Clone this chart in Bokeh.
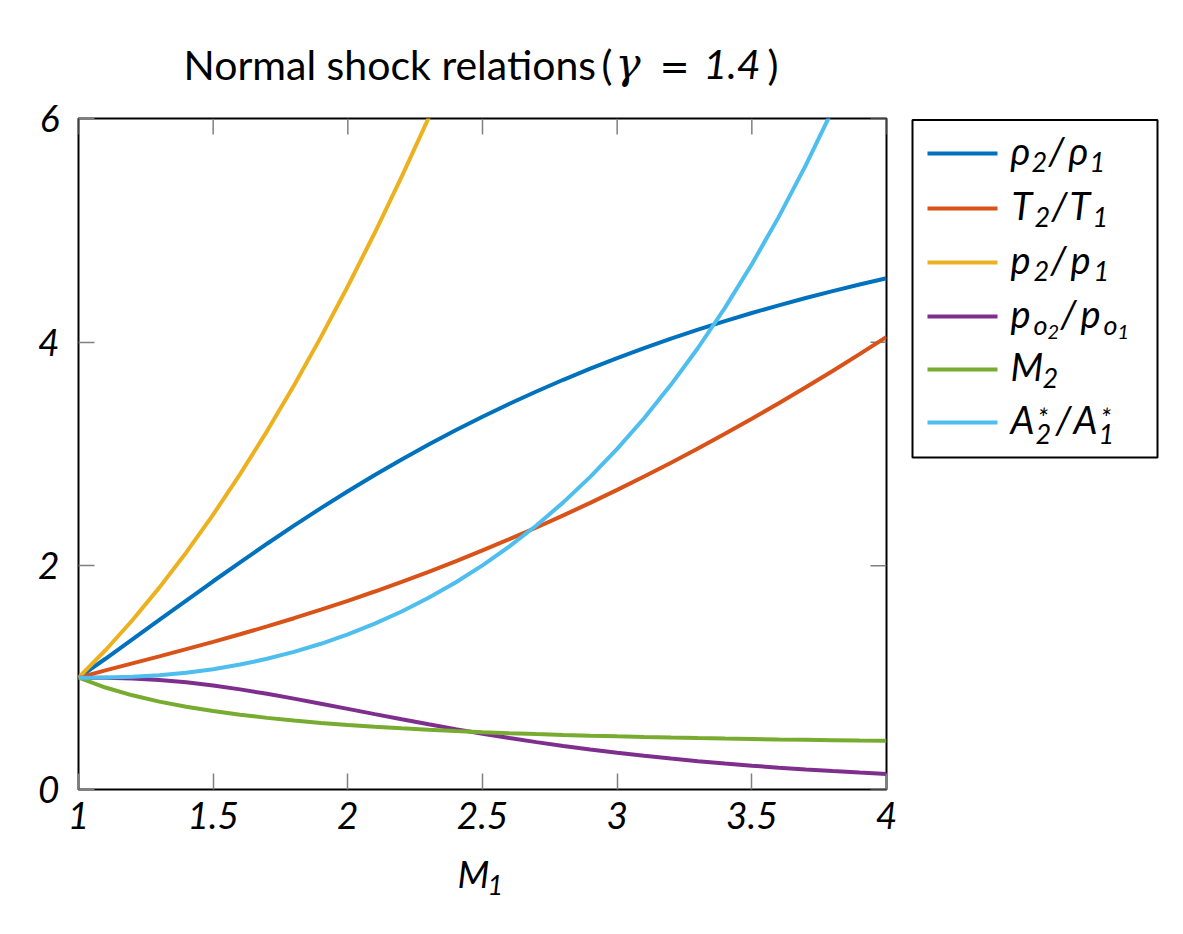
from bokeh.plotting import figure
from bokeh.models import Range1d, FixedTicker, NumeralTickFormatter, ColumnDataSource
from bokeh.layouts import row, column
from bokeh.embed import file_html
from bokeh.resources import INLINE
from bokeh.core.properties import value

# ---------------- data ----------------
mach = [1.0, 1.1, 1.2, 1.3, 1.4, 1.5, 1.6, 1.7, 1.8, 1.9, 2.0, 2.1, 2.2, 2.3, 2.4, 2.5,
        2.6, 2.7, 2.8, 2.9, 3.0, 3.1, 3.2, 3.3, 3.4, 3.5, 3.6, 3.7, 3.8, 3.9, 4.0]
density_ratio = [1.0000, 1.1691, 1.3416, 1.5157, 1.6897, 1.8621, 2.0317, 2.1977, 2.3592, 2.5157,
                 2.6667, 2.8119, 2.9512, 3.0845, 3.2119, 3.3333, 3.4490, 3.5590, 3.6636, 3.7629,
                 3.8571, 3.9466, 4.0315, 4.1120, 4.1884, 4.2609, 4.3296, 4.3949, 4.4568, 4.5156, 4.5714]
temperature_ratio = [1.0000, 1.0649, 1.1280, 1.1909, 1.2547, 1.3202, 1.3880, 1.4583, 1.5316, 1.6079,
                     1.6875, 1.7704, 1.8569, 1.9468, 2.0403, 2.1375, 2.2383, 2.3429, 2.4512, 2.5632,
                     2.6790, 2.7986, 2.9220, 3.0492, 3.1802, 3.3150, 3.4537, 3.5962, 3.7426, 3.8928, 4.0469]
pressure_ratio = [1.0000, 1.2450, 1.5133, 1.8050, 2.1200, 2.4583, 2.8200, 3.2050, 3.6133, 4.0450,
                  4.5000, 4.9783, 5.4800, 6.0050, 6.5533, 7.1250, 7.7200, 8.3383, 8.9800, 9.6450,
                  10.3333, 11.0450, 11.7800, 12.5383, 13.3200, 14.1250, 14.9533, 15.8050, 16.6800,
                  17.5783, 18.5000]
stagnation_pressure_ratio = [1.0000, 0.9989, 0.9928, 0.9794, 0.9582, 0.9298, 0.8952, 0.8557, 0.8127,
                             0.7674, 0.7209, 0.6742, 0.6281, 0.5833, 0.5401, 0.4990, 0.4601, 0.4236,
                             0.3895, 0.3577, 0.3283, 0.3012, 0.2762, 0.2533, 0.2322, 0.2129, 0.1953,
                             0.1792, 0.1645, 0.1510, 0.1388]
downstream_mach = [1.0000, 0.9118, 0.8422, 0.7860, 0.7397, 0.7011, 0.6684, 0.6405, 0.6165, 0.5956,
                   0.5774, 0.5613, 0.5471, 0.5344, 0.5231, 0.5130, 0.5039, 0.4956, 0.4882, 0.4814,
                   0.4752, 0.4695, 0.4643, 0.4596, 0.4552, 0.4512, 0.4474, 0.4439, 0.4407, 0.4377, 0.4350]
throat_area_ratio = [1.0000, 1.0011, 1.0073, 1.0210, 1.0436, 1.0755, 1.1171, 1.1686, 1.2305, 1.3031,
                     1.3872, 1.4832, 1.5921, 1.7144, 1.8515, 2.0040, 2.1734, 2.3607, 2.5674, 2.7956,
                     3.0460, 3.3201, 3.6206, 3.9479, 4.3066, 4.6970, 5.1203, 5.5804, 6.0790, 6.6225, 7.2046]

x_ticks = [1, 1.5, 2, 2.5, 3, 3.5, 4]
y_ticks = [0, 2, 4, 6]

series = [density_ratio, temperature_ratio, pressure_ratio,
          stagnation_pressure_ratio, downstream_mach, throat_area_ratio]
colors = ["#0072BD", "#D95319", "#EDB120", "#7E2F8E", "#77AC30", "#4DBEEE"]

FONT = "Lato"
X0, X1, Y0, Y1 = 1, 4, 0, 6
BASE_K = 0.4   # compensation: glyph text baseline sits ~0.4 em low


def blank(fig):
    fig.grid.visible = False
    fig.outline_line_color = None
    fig.background_fill_color = "white"
    fig.border_fill_color = "white"


def put_text(fig, items, font, style):
    """items: (text, x, baseline_y, size_px) in page pixels (y grows downward)."""
    src = ColumnDataSource(dict(
        text=[t for t, _, _, _ in items],
        x=[x for _, x, _, _ in items],
        y=[y - BASE_K * s for _, _, y, s in items],
        size=["%dpx" % s for _, _, _, s in items],
    ))
    fig.text(x="x", y="y", text="text", source=src, text_font_size="size",
             text_font=value(font), text_font_style=style, text_color="black",
             text_align="left", text_baseline="alphabetic")


# ---------------- title strip ----------------
tf = figure(width=898, height=96, x_range=Range1d(78, 886), y_range=Range1d(96, 0),
            output_backend="svg", toolbar_location=None, x_axis_location=None, y_axis_location=None,
            min_border_left=78, min_border_right=12, min_border_top=0, min_border_bottom=0)
blank(tf)
put_text(tf, [("Normal shock relations", 183, 80, 41), ("(", 601, 80, 41), (")", 767, 80, 41)],
         FONT, "normal")
put_text(tf, [("1.4", 703, 80, 41)], FONT, "italic")
put_text(tf, [("γ", 615, 80, 42)], "DejaVu Serif", "italic")
put_text(tf, [("=", 659, 80, 36)], "DejaVu Sans", "normal")

# ---------------- main plot ----------------
p = figure(width=898, height=753, x_range=Range1d(X0, X1), y_range=Range1d(Y0, Y1),
           output_backend="svg", toolbar_location=None,
           min_border_left=78, min_border_right=12, min_border_top=22, min_border_bottom=60)
p.grid.visible = False
p.outline_line_color = "black"
p.outline_line_width = 2
p.outline_line_alpha = 1.0
p.background_fill_color = "white"
p.border_fill_color = "white"


def style_axis(ax, standoff):
    ax.axis_line_color = None
    ax.major_tick_in = 16
    ax.major_tick_out = 0
    ax.major_tick_line_color = "#808080"
    ax.major_tick_line_width = 1.5
    ax.minor_tick_line_color = None
    ax.major_label_text_font = FONT
    ax.major_label_text_font_style = "italic"
    ax.major_label_text_color = "black"
    ax.major_label_standoff = standoff
    ax.major_label_text_font_size = "37px"


p.xaxis.ticker = FixedTicker(ticks=x_ticks)
p.xaxis.formatter = NumeralTickFormatter(format="0.[0]")
p.yaxis.ticker = FixedTicker(ticks=y_ticks)
p.yaxis.formatter = NumeralTickFormatter(format="0")
style_axis(p.xaxis[0], 12)
style_axis(p.yaxis[0], 19)

# mirrored inward ticks on the top and right edges (16 px long)
tick_dy = 16 * (Y1 - Y0) / 671.0
tick_dx = 16 * (X1 - X0) / 808.0
p.segment(x0=x_ticks, x1=x_ticks, y0=[Y1] * len(x_ticks), y1=[Y1 - tick_dy] * len(x_ticks),
          line_color="#808080", line_width=1.5)
p.segment(x0=[X1] * len(y_ticks), x1=[X1 - tick_dx] * len(y_ticks), y0=y_ticks, y1=y_ticks,
          line_color="#808080", line_width=1.5)

for vals, col in zip(series, colors):
    p.line(x=mach, y=vals, line_color=col, line_width=4)

# ---------------- x-axis label strip ----------------
xf = figure(width=898, height=69, x_range=Range1d(78, 886), y_range=Range1d(918, 849),
            output_backend="svg", toolbar_location=None, x_axis_location=None, y_axis_location=None,
            min_border_left=78, min_border_right=12, min_border_top=0, min_border_bottom=0)
blank(xf)
put_text(xf, [("M", 457, 888, 37), ("1", 487, 895, 27)], FONT, "italic")

# ---------------- legend panel ----------------
lg = figure(width=277, height=753, x_range=Range1d(898, 1175), y_range=Range1d(789, 118),
            output_backend="svg", toolbar_location=None, x_axis_location=None, y_axis_location=None,
            min_border_left=0, min_border_right=0, min_border_top=22, min_border_bottom=60)
blank(lg)
lg.quad(left=912, right=1157, top=119.5, bottom=457, fill_color=None, line_color="black", line_width=2)

row_y = [153, 208, 262, 316, 369, 422]
lg.segment(x0=[927] * 6, x1=[997] * 6, y0=row_y, y1=row_y, line_color=colors, line_width=4)

M, S, SS = 38, 27, 20
pieces = [
    # row 1: rho2/rho1
    ("ρ", 1010, 165, M), ("2", 1031, 172, S), ("/", 1048, 165, M), ("ρ", 1068, 165, M), ("1", 1089, 172, S),
    # row 2: T2/T1
    ("T", 1011, 220, M), ("2", 1034, 227, S), ("/", 1051, 220, M), ("T", 1069, 220, M), ("1", 1092, 227, S),
    # row 3: p2/p1
    ("p", 1010, 274, M), ("2", 1033, 281, S), ("/", 1050, 274, M), ("p", 1070, 274, M), ("1", 1093, 281, S),
    # row 4: p_o2/p_o1
    ("p", 1010, 328, M), ("o", 1033, 335, S), ("2", 1047, 339, SS), ("/", 1060, 328, M),
    ("p", 1080, 328, M), ("o", 1103, 335, S), ("1", 1117, 339, SS),
    # row 5: M2
    ("M", 1010, 381, M), ("2", 1042, 388, S),
    # row 6: A2*/A1*
    ("A", 1010, 434, M), ("*", 1037, 428, S), ("2", 1035, 444, S), ("/", 1055, 434, M),
    ("A", 1073, 434, M), ("*", 1100, 428, S), ("1", 1098, 444, S),
]
put_text(lg, pieces, FONT, "italic")

layout = column(tf, row(p, lg), xf)
open("out.html", "w").write(file_html(layout, INLINE))
